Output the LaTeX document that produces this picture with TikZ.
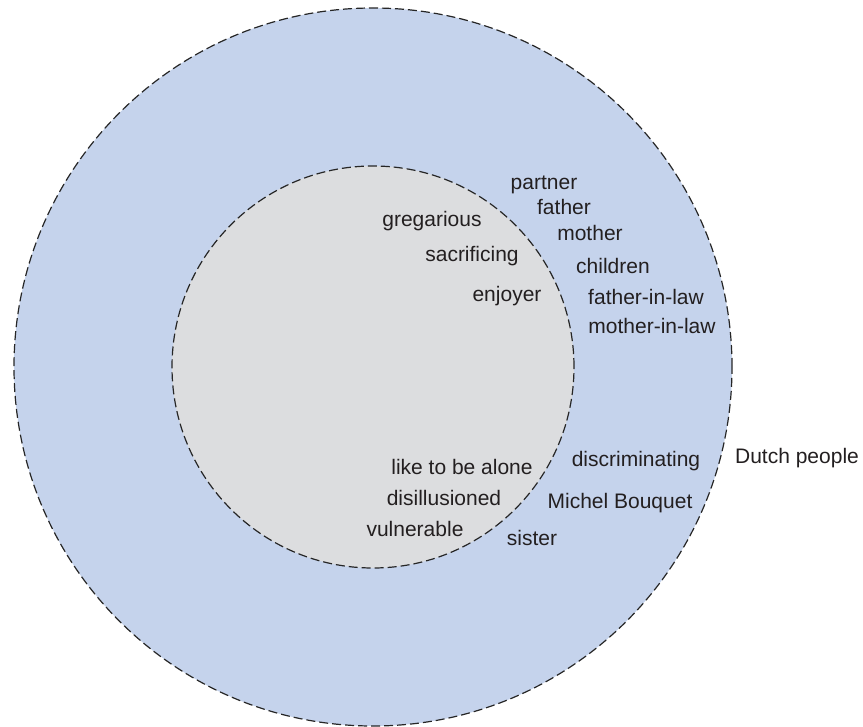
\documentclass[tikz,border=0pt]{standalone}
\usepackage{fontspec}
\setmainfont{Liberation Sans}
\definecolor{outerblue}{HTML}{C5D3EC}
\definecolor{innergray}{HTML}{DCDDDF}
\definecolor{inktext}{HTML}{231F20}

\begin{document}
\begin{tikzpicture}[x=1bp,y=-1bp,
              ring/.style={draw=black!85, line width=1.2bp, dash pattern=on 9bp off 4bp},
              word/.style={anchor=mid, yshift=-5bp, inner sep=0pt, text=inktext,
                           font=\fontsize{21bp}{25bp}\selectfont}
            ]
              \useasboundingbox (0,0) rectangle (863,727);
              \coordinate (centre) at (373,367);
              \draw[ring, fill=outerblue] (centre) circle[radius=359bp];
              \draw[ring, fill=innergray] (centre) circle[radius=201bp];
              % inner circle
              \node[word] (gregarious) at (432,219) {gregarious};
              \node[word] (sacrificing) at (472,254) {sacrificing};
              \node[word] (enjoyer) at (507,294) {enjoyer};
              \node[word] (alone) at (462,467) {like to be alone};
              \node[word] (disillusioned) at (444,498) {disillusioned};
              \node[word] (vulnerable) at (415,529) {vulnerable};
              % outer ring
              \node[word] (partner) at (544,182) {partner};
              \node[word] (father) at (564,207) {father};
              \node[word] (mother) at (590,233) {mother};
              \node[word] (children) at (613,266) {children};
              \node[word] (fatherinlaw) at (646,297) {father-in-law};
              \node[word] (motherinlaw) at (652,326) {mother-in-law};
              \node[word] (discriminating) at (636,459) {discriminating};
              \node[word] (bouquet) at (620,501) {Michel Bouquet};
              \node[word] (sister) at (532,538) {sister};
              % outside
              \node[word] (dutch) at (797,456) {Dutch people};
            \end{tikzpicture}
\end{document}
